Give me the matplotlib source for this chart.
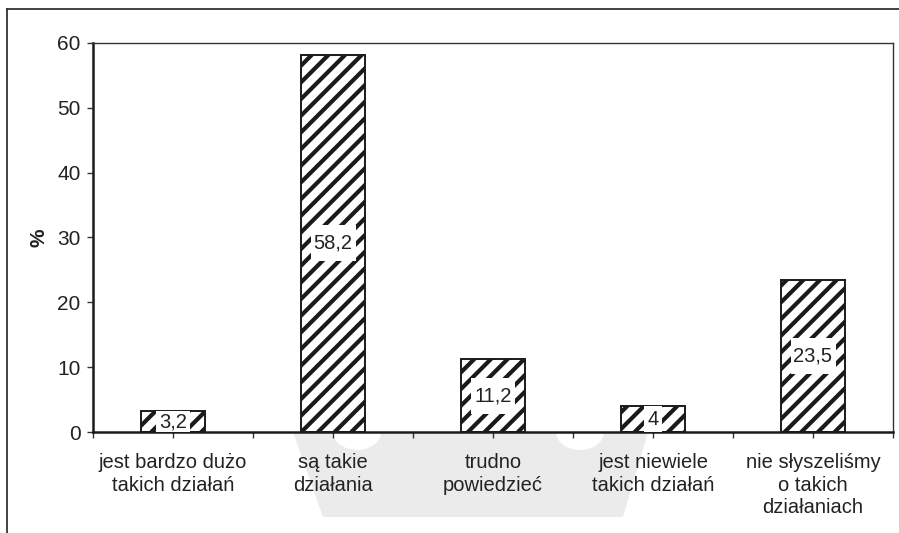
import matplotlib
matplotlib.use("Agg")
import matplotlib.pyplot as plt
import numpy as np
from matplotlib.patches import Polygon, Ellipse, Rectangle

plt.rcParams["font.family"] = ["Liberation Sans", "DejaVu Sans"]
plt.rcParams["hatch.linewidth"] = 3.0
plt.rcParams["hatch.color"] = "#111111"

# Answers and their shares (%)
CATEGORIES = [
    "jest bardzo dużo\ntakich działań",
    "są takie\ndziałania",
    "trudno\npowiedzieć",
    "jest niewiele\ntakich działań",
    "nie słyszeliśmy\no takich\ndziałaniach",
]
VALUES = [3.2, 58.2, 11.2, 4.0, 23.5]
VALUE_LABELS = ["3,2", "58,2", "11,2", "4", "23,5"]

W, H = 899, 533
fig = plt.figure(figsize=(W / 100, H / 100), dpi=100)

# background layer: grey shape under the labels and the outer frame
bg = fig.add_axes([0, 0, 1, 1], zorder=-1)
bg.set_xlim(0, W)
bg.set_ylim(H, 0)
bg.axis("off")
bg.add_patch(Polygon([(293, 432), (323, 517), (623, 517), (648, 432)], closed=True,
                     facecolor="#ebebeb", edgecolor="none"))
for cx in (357, 580):
    bg.add_patch(Ellipse((cx, 432), 48, 36, facecolor="white", edgecolor="none"))
bg.plot([7, W], [9, 9], color="#333333", lw=1.3)
bg.plot([7, 7], [9, H], color="#333333", lw=1.3)

ax = fig.add_axes([93 / W, 1 - 432 / H, 800 / W, (432 - 43) / H])
ax.patch.set_alpha(0)

x = np.arange(len(VALUES))
bars = ax.bar(x, VALUES, width=0.4, color="white", edgecolor="#1a1a1a", linewidth=1.4,
              hatch="//", zorder=2)

ax.set_xlim(-0.5, len(VALUES) - 0.5)
ax.set_ylim(0, 60)

labels = []
for xi, v, lab in zip(x, VALUES, VALUE_LABELS):
    labels.append(ax.text(xi, v / 2, lab, ha="center", va="center", fontsize=14.5,
                          color="#222222", zorder=4))

ax.set_yticks(np.arange(0, 61, 10))
ax.set_xticks(x)
ax.set_xticklabels(CATEGORIES, fontsize=14.5, color="#222222", linespacing=1.25,
                   va="top")
ax.set_xticks(np.arange(-0.5, len(VALUES), 1.0), minor=True)
ax.tick_params(axis="x", which="both", direction="out", length=4, width=1, color="#333333",
               pad=11)
ax.tick_params(axis="y", direction="out", length=4, width=1, color="#333333",
               labelsize=15, labelcolor="#222222", pad=5)
ax.set_ylabel("%", fontsize=15, fontweight="bold", color="#222222", labelpad=6)

for side in ("left", "bottom"):
    ax.spines[side].set_linewidth(1.8)
    ax.spines[side].set_color("#1a1a1a")
for side in ("top", "right"):
    ax.spines[side].set_linewidth(1.0)
    ax.spines[side].set_color("#333333")

# white boxes behind the value labels, cut to the bar
fig.canvas.draw()
inv = ax.transData.inverted()
for t, b, v in zip(labels, bars, VALUES):
    ext = t.get_window_extent()
    (x0, _), (x1, _) = inv.transform([(ext.x0 - 3, 0), (ext.x1 + 3, 0)])
    _, y0 = inv.transform((0, ext.y0 + ext.height / 2 - 18))
    _, y1 = inv.transform((0, ext.y0 + ext.height / 2 + 18))
    y0, y1 = max(y0, 0), min(y1, v)
    box = Rectangle((x0, y0), x1 - x0, y1 - y0, facecolor="white", edgecolor="none",
                    zorder=3)
    ax.add_patch(box)
    box.set_clip_path(b)

fig.savefig("out.png", dpi=100, facecolor="white")
